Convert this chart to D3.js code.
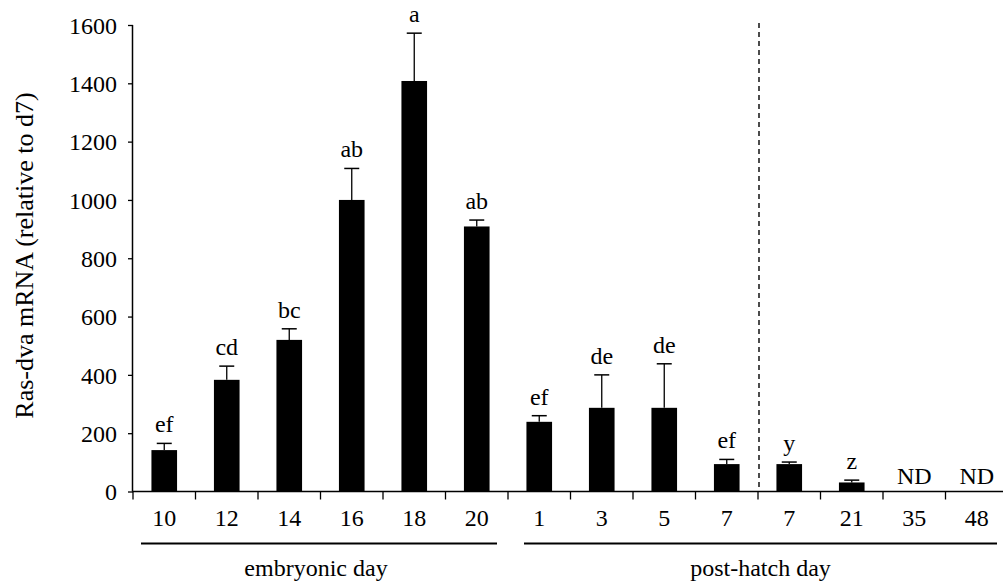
<!DOCTYPE html>
<html>
<head>
<meta charset="utf-8">
<script src="https://cdn.jsdelivr.net/npm/d3@7"></script>
<style>
  body { margin: 0; background: #fff; }
</style>
</head>
<body>
<div id="chart"></div>
<script>
const days = ['10', '12', '14', '16', '18', '20', '1', '3', '5', '7', '7', '21', '35', '48'];
const means = [142, 383, 520, 1000, 1408, 909, 239, 287, 287, 94, 94, 31, null, null];
const errors = [23, 47, 38, 108, 164, 22, 21, 113, 151, 16, 7, 8, null, null];
const letters = ['ef', 'cd', 'bc', 'ab', 'a', 'ab', 'ef', 'de', 'de', 'ef', 'y', 'z', 'ND', 'ND'];
const yTicks = [0, 200, 400, 600, 800, 1000, 1200, 1400, 1600];
const groupLabels = ['embryonic day', 'post-hatch day'];
const groupFirst = [0, 6];
const groupLast = [5, 13];
const dividerIndex = 10;

const FONT = 'Liberation Serif';

const W = 1003;
const H = 584;
const margin = { top: 25, left: 133, bottom: 92.5, right: -5 };
const width = W - margin.left - margin.right;
const height = H - margin.top - margin.bottom;

const svg = d3.select('#chart').append('svg')
    .attr('width', W)
    .attr('height', H)
    .attr('font-family', FONT);

const g = svg.append('g')
    .attr('transform', `translate(${margin.left},${margin.top})`);

const ids = days.map((d, i) => i);

const x = d3.scaleBand()
    .domain(ids)
    .range([0, width])
    .paddingInner(0.59)
    .paddingOuter(0.295);

const step = x.step();
const slotStart = i => x(i) - x.paddingOuter() * step;
const slotEnd = i => slotStart(i) + step;
const centre = i => x(i) + x.bandwidth() / 2;

const y = d3.scaleLinear()
    .domain([0, 1600])
    .range([height, 0]);

// y axis
const yAxis = d3.axisLeft(y)
    .tickValues(yTicks)
    .tickSize(5)
    .tickPadding(11)
    .tickFormat(d3.format('d'));

g.append('g').attr('class', 'axis axis--y')
    .call(yAxis)
    .attr('font-family', FONT)
    .attr('font-size', 24)
    .call(s => s.select('.domain').attr('d', `M-0.5,0V${height}`).attr('stroke-width', 1.5))
    .call(s => s.selectAll('.tick line').attr('stroke-width', 1.3))
    .call(s => s.selectAll('text').attr('dy', '0.34em'));

// x axis: line, ticks at slot boundaries, labels at centres
const xAxisG = g.append('g').attr('class', 'axis axis--x')
    .attr('transform', `translate(0,${height})`)
    .attr('font-family', FONT)
    .attr('font-size', 24);

xAxisG.append('line')
    .attr('x1', -0.5).attr('x2', width)
    .attr('stroke', '#000').attr('stroke-width', 1.5);

xAxisG.selectAll('.xtick').data(ids)
    .enter().append('line')
    .attr('class', 'xtick')
    .attr('x1', d => slotStart(d)).attr('x2', d => slotStart(d))
    .attr('y1', 0).attr('y2', 8)
    .attr('stroke', '#000').attr('stroke-width', 1.3);

xAxisG.selectAll('.xlabel').data(ids)
    .enter().append('text')
    .attr('class', 'xlabel')
    .attr('x', centre)
    .attr('y', 34.5)
    .attr('text-anchor', 'middle')
    .text(d => days[d]);

// group underlines and labels
const lineInsetStart = [8, 16];
const lineInsetEnd = [11, 11];
const labelShift = [-3, 0];

groupLabels.forEach((label, k) => {
    const x0 = slotStart(groupFirst[k]) + lineInsetStart[k];
    const x1 = Math.min(slotEnd(groupLast[k]), width) - lineInsetEnd[k];
    xAxisG.append('line')
        .attr('x1', x0).attr('x2', x1)
        .attr('y1', 52).attr('y2', 52)
        .attr('stroke', '#000').attr('stroke-width', 2);

    xAxisG.append('text')
        .attr('class', 'group-label')
        .attr('x', (x0 + x1) / 2 + labelShift[k])
        .attr('y', 84.5)
        .attr('text-anchor', 'middle')
        .text(label);
});

// dashed divider
g.append('line')
    .attr('x1', slotStart(dividerIndex) + 1).attr('x2', slotStart(dividerIndex) + 1)
    .attr('y1', -2).attr('y2', height)
    .attr('stroke', '#000')
    .attr('stroke-width', 1.4)
    .attr('stroke-dasharray', '5,4');

// bars
const barData = ids.filter(i => means[i] !== null);

g.append('g').attr('class', 'bars')
    .selectAll('rect').data(barData)
    .enter().append('rect')
    .attr('x', d => x(d))
    .attr('width', x.bandwidth())
    .attr('y', d => y(means[d]))
    .attr('height', d => y(0) - y(means[d]))
    .attr('fill', '#000');

// error bars
const capHalf = 7.5;
const errG = g.append('g').attr('class', 'errors')
    .selectAll('g').data(barData)
    .enter().append('g')
    .attr('transform', d => `translate(${centre(d)},0)`);

errG.append('line')
    .attr('x1', 0).attr('x2', 0)
    .attr('y1', d => y(means[d]))
    .attr('y2', d => y(means[d] + errors[d]))
    .attr('stroke', '#000').attr('stroke-width', 1.3);

errG.append('line')
    .attr('x1', -capHalf).attr('x2', capHalf)
    .attr('y1', d => y(means[d] + errors[d]))
    .attr('y2', d => y(means[d] + errors[d]))
    .attr('stroke', '#000').attr('stroke-width', 1.5);

// significance letters
g.append('g').attr('class', 'letters')
    .attr('font-family', FONT)
    .attr('font-size', 24)
    .selectAll('text').data(ids)
    .enter().append('text')
    .attr('x', centre)
    .attr('y', d => (means[d] === null ? y(0) - 8 : y(means[d] + errors[d]) - 11))
    .attr('text-anchor', 'middle')
    .text(d => letters[d]);

// y title
svg.append('text')
    .attr('transform', 'translate(33,255.5) rotate(-90)')
    .attr('font-family', FONT)
    .attr('font-size', 26)
    .attr('text-anchor', 'middle')
    .text('Ras-dva mRNA (relative to d7)');
</script>
</body>
</html>
